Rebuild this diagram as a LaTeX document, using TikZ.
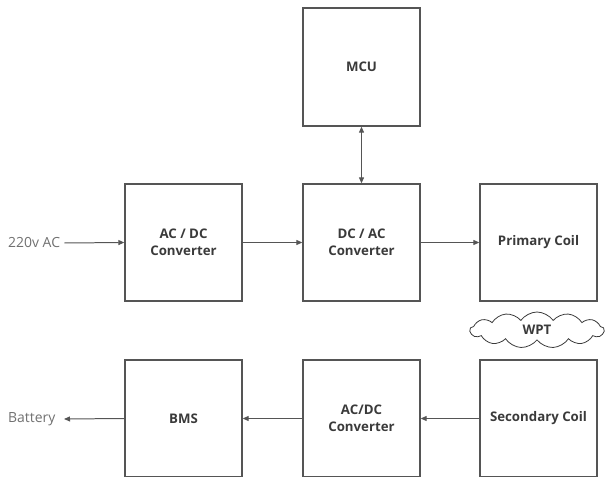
\documentclass[tikz,border=0pt]{standalone}
\usepackage{fontspec}
\setmainfont{Open Sans}
\usetikzlibrary{arrows.meta,shapes.symbols}
\definecolor{lineC}{HTML}{555555}
\definecolor{txtC}{HTML}{3A3A3A}
\definecolor{lblC}{HTML}{707070}
\tikzset{
  blk/.style={draw=lineC, line width=1.3pt, minimum width=117bp, minimum height=117bp, inner sep=0pt, align=center, font=\fontsize{13.3}{17}\selectfont\bfseries, text=txtC},
  lbl/.style={font=\fontsize{14}{16}\selectfont, text=lblC, inner sep=0pt},
  conn/.style={draw=lineC, line width=1pt, -{Triangle[length=6bp,width=5bp]}},
}
\begin{document}
\begin{tikzpicture}[x=1bp,y=-1bp]
\useasboundingbox (0,0) rectangle (605,477);
\node[blk, minimum height=118bp] (mcu) at (361.5,67) {MCU};
\node[blk] (acdc) at (183.5,242.5) {AC / DC\\Converter};
\node[blk] (dcac) at (361.5,242.5) {DC / AC\\Converter};
\node[blk] (prim) at (538.5,242.5) {Primary Coil};
\node[blk] (bms) at (183.5,418.5) {BMS};
\node[blk] (acdc2) at (361.5,418.5) {AC/DC\\Converter};
\node[blk] (sec) at (538.5,418.5) {Secondary Coil};
\node[cloud, cloud puffs=13, cloud puff arc=110, aspect=4, draw=txtC, line width=0.8pt, minimum width=134bp, minimum height=36bp, inner sep=0pt, font=\fontsize{13.3}{16}\selectfont\bfseries, text=txtC] (wpt) at (537,330) {WPT};
\node[lbl, anchor=west] (ac) at (8,243) {220v AC};
\node[lbl, anchor=west] (bat) at (8,419) {Battery};
\draw[conn] (ac.east) ++(4,0) coordinate (acs) -- (acdc.west);
\draw[conn] (acdc) -- (dcac);
\draw[conn] (dcac) -- (prim);
\draw[draw=lineC, line width=1pt, {Triangle[length=6bp,width=5bp]}-{Triangle[length=6bp,width=5bp]}] (mcu) -- (dcac);
\draw[conn] (sec) -- (acdc2);
\draw[conn] (acdc2) -- (bms);
\coordinate (batend) at (64,419);
\draw[conn] (bms.west) -- (batend);
\end{tikzpicture}
\end{document}
